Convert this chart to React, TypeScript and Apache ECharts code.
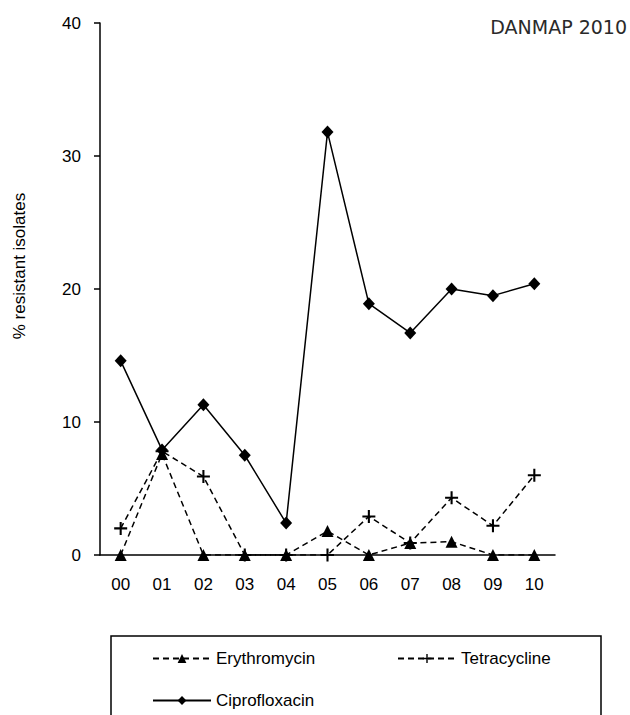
import React, { useEffect, useRef } from "react";
import * as echarts from "echarts";

const years = ["00", "01", "02", "03", "04", "05", "06", "07", "08", "09", "10"];
const erythromycin = [0, 7.6, 0, 0, 0, 1.8, 0, 0.9, 1.0, 0, 0];
const tetracycline = [2.0, 7.8, 5.9, 0, 0, 0, 2.9, 0.9, 4.3, 2.2, 6.0];
const ciprofloxacin = [14.6, 7.9, 11.3, 7.5, 2.4, 31.8, 18.9, 16.7, 20.0, 19.5, 20.4];
const yTicks = [0, 10, 20, 30, 40];

const FONT = "'Liberation Sans', Arial, sans-serif";
const PLUS = "path://M4.2,0 L5.8,0 L5.8,4.2 L10,4.2 L10,5.8 L5.8,5.8 L5.8,10 L4.2,10 L4.2,5.8 L0,5.8 L0,4.2 L4.2,4.2 Z";

export default function App() {
  const ref = useRef<HTMLDivElement>(null);
  useEffect(() => {
    document.body.style.margin = "0";
    const chart = echarts.init(ref.current!, undefined, { renderer: "svg" });
    const legendText = { color: "#000", fontFamily: FONT, fontSize: 17 };
    const mkLegend = (name: string, left: number, top: number) => ({
      data: [name],
      left,
      top,
      padding: 0,
      itemWidth: 58,
      itemHeight: 11,
      selectedMode: false,
      textStyle: legendText,
    });
    chart.setOption({
      animation: false,
      backgroundColor: "#fff",
      grid: { left: 100, right: 75, top: 23, bottom: 160 },
      legend: [
        mkLegend("Erythromycin", 152, 650),
        mkLegend("Tetracycline", 397, 650),
        mkLegend("Ciprofloxacin", 152, 692),
      ],
      xAxis: {
        type: "category",
        data: years,
        boundaryGap: true,
        axisLine: { lineStyle: { color: "#000", width: 1.5 } },
        axisTick: { length: 7, lineStyle: { color: "#000", width: 1.5 } },
        axisLabel: { color: "#000", fontFamily: FONT, fontSize: 17, margin: 21 },
        splitLine: { show: false },
      },
      yAxis: {
        type: "value",
        min: yTicks[0],
        max: yTicks[yTicks.length - 1],
        interval: 10,
        axisLine: { show: true, lineStyle: { color: "#000", width: 1.5 } },
        axisTick: { show: true, length: 6, lineStyle: { color: "#000", width: 1.5 } },
        axisLabel: { color: "#000", fontFamily: FONT, fontSize: 17, margin: 19 },
        splitLine: { show: false },
      },
      graphic: [
        {
          type: "text",
          x: 19,
          y: 266,
          rotation: Math.PI / 2,
          style: {
            text: "% resistant isolates",
            fontFamily: FONT,
            fontSize: 17,
            fill: "#000",
            align: "center",
            verticalAlign: "middle",
          },
        },
        {
          type: "text",
          x: 627,
          y: 27,
          style: {
            text: "DANMAP 2010",
            fontFamily: "'DejaVu Sans', sans-serif",
            fontSize: 19,
            fill: "#2a2a2a",
            align: "right",
            verticalAlign: "middle",
          },
        },
        {
          type: "rect",
          shape: { x: 111, y: 636, width: 490, height: 120 },
          style: { fill: "none", stroke: "#000", lineWidth: 1.5 },
        },
      ],
      series: [
        {
          name: "Erythromycin",
          type: "line",
          data: erythromycin,
          symbol: "triangle",
          symbolSize: [12, 12],
          itemStyle: { color: "#000" },
          lineStyle: { color: "#000", width: 1.5, type: [6, 4] },
          z: 3,
        },
        {
          name: "Tetracycline",
          type: "line",
          data: tetracycline,
          symbol: PLUS,
          symbolSize: 13,
          itemStyle: { color: "#000" },
          lineStyle: { color: "#000", width: 1.5, type: [6, 4] },
          z: 3,
        },
        {
          name: "Ciprofloxacin",
          type: "line",
          data: ciprofloxacin,
          symbol: "diamond",
          symbolSize: [12, 13],
          itemStyle: { color: "#000" },
          lineStyle: { color: "#000", width: 1.5, type: "solid" },
          z: 4,
        },
      ],
    });
    return () => chart.dispose();
  }, []);
  return <div ref={ref} style={{ width: 630, height: 715 }} />;
}
